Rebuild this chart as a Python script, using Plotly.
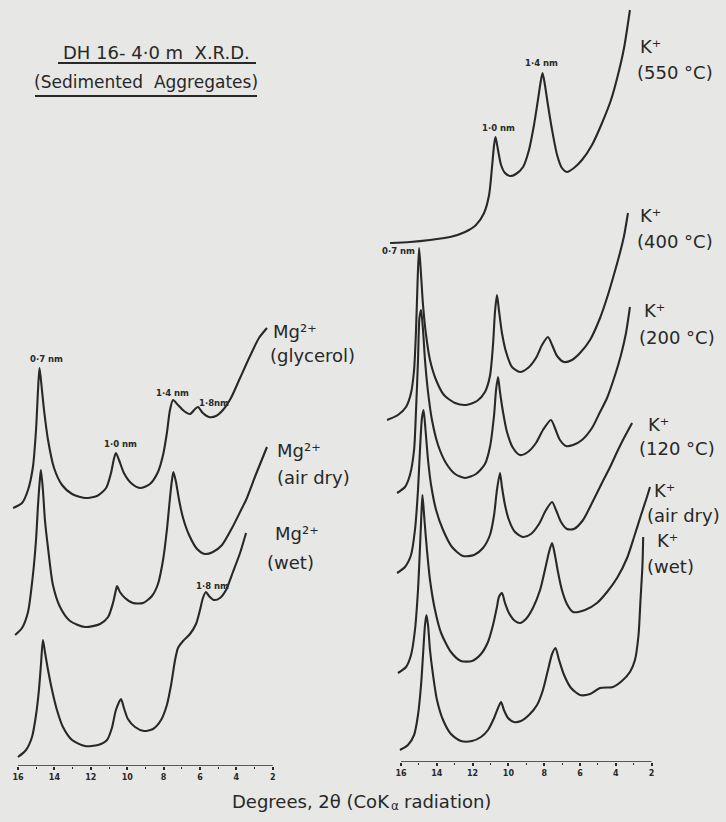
import plotly.graph_objects as go

# ---------------- DATA (2-theta in degrees, intensity in arbitrary units) -------------
TICKS = [16, 14, 12, 10, 8, 6, 4, 2]

# Left panel: Mg2+ saturated
MG_GLY_2T = [16.27, 15.78, 15.45, 15.18, 15.01, 14.90, 14.82, 14.74, 14.57, 14.35, 14.02, 13.58,
             13.03, 12.32, 11.66, 11.16, 10.89, 10.73, 10.62, 10.45, 10.18, 9.79, 9.30, 8.75,
             8.31, 8.03, 7.82, 7.65, 7.48, 7.21, 6.88, 6.55, 6.27, 6.11, 5.84, 5.51, 5.12, 4.74,
             4.30, 3.80, 3.25, 2.76, 2.32]
MG_GLY_I = [8, 13, 26, 49, 86, 126, 148, 136, 106, 76, 48, 31,
            22, 18, 20, 28, 43, 57, 63, 56, 43, 33, 28, 32,
            44, 61, 83, 106, 116, 111, 105, 102, 107, 109, 103, 99, 100, 106,
            118, 138, 160, 178, 188]

MG_AIR_2T = [16.16, 15.78, 15.45, 15.18, 15.01, 14.90, 14.79, 14.74, 14.63, 14.52, 14.35, 14.08,
             13.69, 13.14, 12.32, 11.49, 11.05, 10.78, 10.62, 10.56, 10.40, 10.12, 9.68, 9.13,
             8.64, 8.31, 8.03, 7.82, 7.65, 7.54, 7.46, 7.32, 7.15, 6.93, 6.60, 6.16, 5.73, 5.29,
             4.79, 4.24, 3.69, 3.47, 2.92, 2.32]
MG_AIR_I = [11, 18, 34, 71, 106, 141, 168, 176, 156, 126, 98, 61,
            39, 25, 19, 22, 29, 43, 56, 60, 54, 48, 43, 43,
            50, 62, 86, 116, 148, 166, 174, 164, 146, 128, 111, 97, 92, 94,
            101, 118, 138, 146, 172, 199]

MG_WET_2T = [16.00, 15.56, 15.23, 15.01, 14.85, 14.74, 14.63, 14.52, 14.35, 14.13, 13.86, 13.53,
             13.03, 12.32, 11.60, 11.11, 10.84, 10.62, 10.34, 10.18, 9.96, 9.57, 9.08, 8.58,
             8.14, 7.82, 7.59, 7.37, 7.21, 6.93, 6.55, 6.22, 6.00, 5.84, 5.67, 5.51, 5.23, 4.90,
             4.57, 4.19, 3.80, 3.47]
MG_WET_I = [9, 16, 29, 51, 76, 101, 126, 114, 96, 76, 56, 39,
            26, 20, 21, 26, 38, 56, 67, 58, 47, 39, 35, 37,
            46, 61, 81, 106, 118, 125, 132, 142, 156, 168, 174, 170, 166, 168,
            176, 194, 213, 233]

# Right panel: K+ saturated, heated
K550_2T = [16.61, 15.50, 14.38, 13.26, 12.42, 11.81, 11.36, 11.08, 10.92, 10.80, 10.72, 10.58,
           10.41, 10.19, 9.91, 9.58, 9.18, 8.85, 8.57, 8.35, 8.18, 8.09, 7.96, 7.79, 7.56,
           7.28, 7.01, 6.73, 6.34, 5.89, 5.33, 4.77, 4.27, 3.88, 3.54, 3.21]
K550_I = [19, 20, 22, 25, 30, 37, 49, 67, 94, 117, 125, 112,
          97, 89, 86, 88, 95, 112, 137, 162, 182, 189, 177, 157, 132,
          107, 94, 90, 94, 102, 117, 139, 162, 187, 214, 252]

K400_2T = [16.78, 16.17, 15.72, 15.44, 15.27, 15.16, 15.08, 14.99, 14.88, 14.77, 14.60, 14.38,
           14.04, 13.60, 12.98, 12.37, 11.75, 11.31, 11.03, 10.86, 10.75, 10.64, 10.53, 10.36,
           10.13, 9.80, 9.35, 8.91, 8.46, 8.12, 7.79, 7.56, 7.28, 6.89, 6.45, 6.00, 5.44, 4.88,
           4.44, 4.11, 3.77, 3.54, 3.32]
K400_I = [12, 17, 25, 39, 62, 102, 147, 184, 157, 127, 97, 72,
          52, 37, 29, 27, 31, 40, 56, 87, 120, 137, 122, 99,
          80, 65, 60, 64, 74, 87, 95, 87, 76, 70, 72, 79, 92, 114,
          137, 157, 179, 196, 219]

K200_2T = [16.22, 15.78, 15.50, 15.27, 15.16, 15.05, 14.97, 14.88, 14.77, 14.66, 14.49, 14.27,
           13.93, 13.49, 12.98, 12.42, 11.81, 11.31, 11.03, 10.80, 10.69, 10.58, 10.47, 10.30,
           10.08, 9.74, 9.35, 8.91, 8.46, 8.07, 7.62, 7.40, 7.12, 6.78, 6.39, 5.89, 5.33, 4.88,
           4.49, 4.04, 3.71, 3.43, 3.21]
K200_I = [9, 15, 27, 52, 92, 142, 184, 192, 172, 142, 110, 82,
          57, 39, 28, 24, 28, 38, 55, 87, 112, 125, 110, 90,
          70, 54, 47, 50, 59, 72, 82, 74, 62, 56, 57, 62, 74, 90,
          104, 127, 147, 169, 195]

K120_2T = [16.22, 15.78, 15.44, 15.22, 15.05, 14.94, 14.83, 14.74, 14.63, 14.49, 14.32, 14.04,
           13.65, 13.15, 12.54, 11.92, 11.42, 11.03, 10.80, 10.64, 10.47, 10.36, 10.19, 9.97,
           9.63, 9.18, 8.74, 8.29, 7.90, 7.56, 7.34, 7.06, 6.73, 6.34, 5.83, 5.33, 4.83, 4.32,
           3.93, 3.60, 3.09]
K120_I = [9, 15, 27, 52, 92, 132, 164, 172, 152, 122, 97, 72,
          52, 35, 26, 27, 34, 47, 67, 92, 109, 95, 77, 62,
          50, 45, 48, 58, 72, 80, 72, 60, 53, 53, 62, 79, 97, 115,
          130, 142, 159]

KAIR_2T = [16.17, 15.72, 15.44, 15.22, 15.05, 14.94, 14.85, 14.80, 14.69, 14.55, 14.38, 14.10,
           13.76, 13.21, 12.65, 12.03, 11.53, 11.14, 10.86, 10.64, 10.53, 10.36, 10.19, 9.97,
           9.63, 9.35, 9.02, 8.63, 8.23, 7.96, 7.73, 7.56, 7.40, 7.23, 7.01, 6.73, 6.39, 5.72,
           5.05, 4.49, 3.93, 3.37, 2.98, 2.59, 2.26, 2.09]
KAIR_I = [9, 15, 27, 52, 92, 134, 172, 187, 162, 132, 102, 72,
          49, 30, 21, 21, 28, 40, 57, 75, 85, 89, 79, 69,
          61, 59, 63, 74, 92, 112, 130, 139, 127, 110, 92, 78, 70, 72,
          79, 90, 104, 124, 145, 167, 185, 195]

KWET_2T = [16.06, 15.61, 15.27, 15.05, 14.88, 14.77, 14.66, 14.58, 14.49, 14.38, 14.21, 13.99,
           13.65, 13.21, 12.65, 12.03, 11.53, 11.14, 10.80, 10.58, 10.41, 10.25, 10.02, 9.69,
           9.30, 8.85, 8.40, 8.07, 7.79, 7.56, 7.37, 7.17, 6.89, 6.50, 6.00, 5.44, 4.88, 4.16,
           3.66, 3.21, 2.93, 2.73, 2.62, 2.51, 2.47]
KWET_I = [12, 17, 27, 47, 77, 107, 137, 147, 137, 112, 87, 62,
          42, 28, 21, 21, 25, 32, 44, 54, 60, 52, 44, 40,
          41, 47, 57, 72, 92, 108, 114, 102, 87, 74, 67, 68, 74, 75,
          81, 90, 102, 127, 162, 197, 225]

# stacking offsets of the diffractograms (arbitrary units)
LEFT_OFFSETS = {"glycerol": 250, "airdry": 120, "wet": 0}
RIGHT_OFFSETS = {"550": 500, "400": 330, "200": 260, "120": 180, "airdry": 80, "wet": 0}

# ---------------- STYLE ----------------
BG = "#e7e7e5"
INK = "#282828"
FONT = "DejaVu Sans"
W, H = 726, 822

left = [(MG_GLY_2T, MG_GLY_I, LEFT_OFFSETS["glycerol"]),
        (MG_AIR_2T, MG_AIR_I, LEFT_OFFSETS["airdry"]),
        (MG_WET_2T, MG_WET_I, LEFT_OFFSETS["wet"])]
right = [(K550_2T, K550_I, RIGHT_OFFSETS["550"]),
         (K400_2T, K400_I, RIGHT_OFFSETS["400"]),
         (K200_2T, K200_I, RIGHT_OFFSETS["200"]),
         (K120_2T, K120_I, RIGHT_OFFSETS["120"]),
         (KAIR_2T, KAIR_I, RIGHT_OFFSETS["airdry"]),
         (KWET_2T, KWET_I, RIGHT_OFFSETS["wet"])]

fig = go.Figure()
for xs, ys, off in left:
    fig.add_trace(go.Scatter(x=xs, y=[v + off for v in ys], mode="lines",
                             line=dict(color=INK, width=2.1, shape="spline", smoothing=0.7),
                             xaxis="x", yaxis="y", hoverinfo="skip", showlegend=False))
for xs, ys, off in right:
    fig.add_trace(go.Scatter(x=xs, y=[v + off for v in ys], mode="lines",
                             line=dict(color=INK, width=2.1, shape="spline", smoothing=0.7),
                             xaxis="x2", yaxis="y2", hoverinfo="skip", showlegend=False))


def xaxis_cfg(domain, rng, anchor):
    return dict(domain=domain, range=rng, anchor=anchor, showgrid=False, zeroline=False,
                showline=False,
                tickvals=TICKS, ticktext=[str(t) for t in TICKS], ticks="outside",
                ticklen=3, tickwidth=1.5, tickcolor=INK,
                minor=dict(tickvals=[15, 13, 11, 9, 7, 5, 3], ticks="outside", ticklen=2,
                           tickcolor=INK, tickwidth=1),
                tickfont=dict(family=FONT, size=8, color=INK, weight="bold"),
                fixedrange=True)


fig.update_layout(
    width=W, height=H, margin=dict(l=0, r=0, t=0, b=0), autosize=False,
    paper_bgcolor=BG, plot_bgcolor=BG,
    xaxis=xaxis_cfg([10.72 / W, 280.08 / W], [16.4, 1.6], "y"),
    yaxis=dict(domain=[(H - 766) / H, 1], range=[0, 766], visible=False, anchor="x",
               fixedrange=True),
    xaxis2=xaxis_cfg([384.89 / W, 658.76 / W], [16.9, 1.6], "y2"),
    yaxis2=dict(domain=[(H - 762) / H, 1], range=[0, 762], visible=False, anchor="x2",
                fixedrange=True),
)

# baseline axis lines from 16 to 2 degrees
for xr, yr in (("x", "y"), ("x2", "y2")):
    fig.add_shape(type="line", xref=xr, yref=yr, x0=TICKS[0], x1=TICKS[-1], y0=0, y1=0,
                  line=dict(color=INK, width=1.6))


def px(x, y):
    return x / W, 1 - y / H


def ann(x, y, text, size, xanchor="center", bold=False):
    ax, ay = px(x, y)
    font = dict(family=FONT, size=size, color=INK)
    if bold:
        font["weight"] = "bold"
    fig.add_annotation(x=ax, y=ay, xref="paper", yref="paper", text=text, showarrow=False,
                       xanchor=xanchor, yanchor="middle", font=font, borderpad=0)


# title (underlined)
ann(156, 53, "DH 16- 4·0 m  X.R.D.", 18)
ann(146, 82, "(Sedimented  Aggregates)", 17)
for x0, x1, y in ((58, 256, 63), (35, 257, 96)):
    a0, b0 = px(x0, y)
    a1, _ = px(x1, y)
    fig.add_shape(type="line", xref="paper", yref="paper", x0=a0, x1=a1, y0=b0, y1=b0,
                  line=dict(color=INK, width=1.8))

# axis title: "Degrees, 2θ (CoKα radiation)" with a lowered small alpha
ann(391, 801, "Degrees, 2θ (CoK", 18, xanchor="right")
ann(390, 806, "α", 12, xanchor="left")
ann(403, 801, "radiation)", 18, xanchor="left")

# peak labels
for x, y, t in ((46, 359, "0·7 nm"), (120, 444, "1·0 nm"), (172, 393, "1·4 nm"),
                (214, 403, "1·8nm"), (212, 586, "1·8 nm"),
                (399, 251, "0·7 nm"), (498, 128, "1·0 nm"), (541, 63, "1·4 nm")):
    ann(x, y, t, 8.5, bold=True)

# series labels, left panel
for x, y, t in ((272, 331, "Mg²⁺"), (269, 355, "(glycerol)"),
                (276, 450, "Mg²⁺"), (276, 477, "(air dry)"),
                (274, 533, "Mg²⁺"), (266, 562, "(wet)")):
    ann(x, y, t, 18, xanchor="left")

# series labels, right panel
for x, y, t in ((639, 47, "K⁺"), (636, 72, "(550 °C)"),
                (639, 215, "K⁺"), (636, 242, "(400 °C)"),
                (643, 310, "K⁺"), (638, 337, "(200 °C)"),
                (647, 424, "K⁺"), (638, 448, "(120 °C)"),
                (653, 490, "K⁺"), (646, 515, "(air dry)"),
                (656, 540, "K⁺"), (646, 566, "(wet)")):
    ann(x, y, t, 18, xanchor="left")

fig.write_html("out.html", config={"displayModeBar": False},
               post_script="document.body.style.margin='0';"
                           "document.body.style.overflow='hidden';")
